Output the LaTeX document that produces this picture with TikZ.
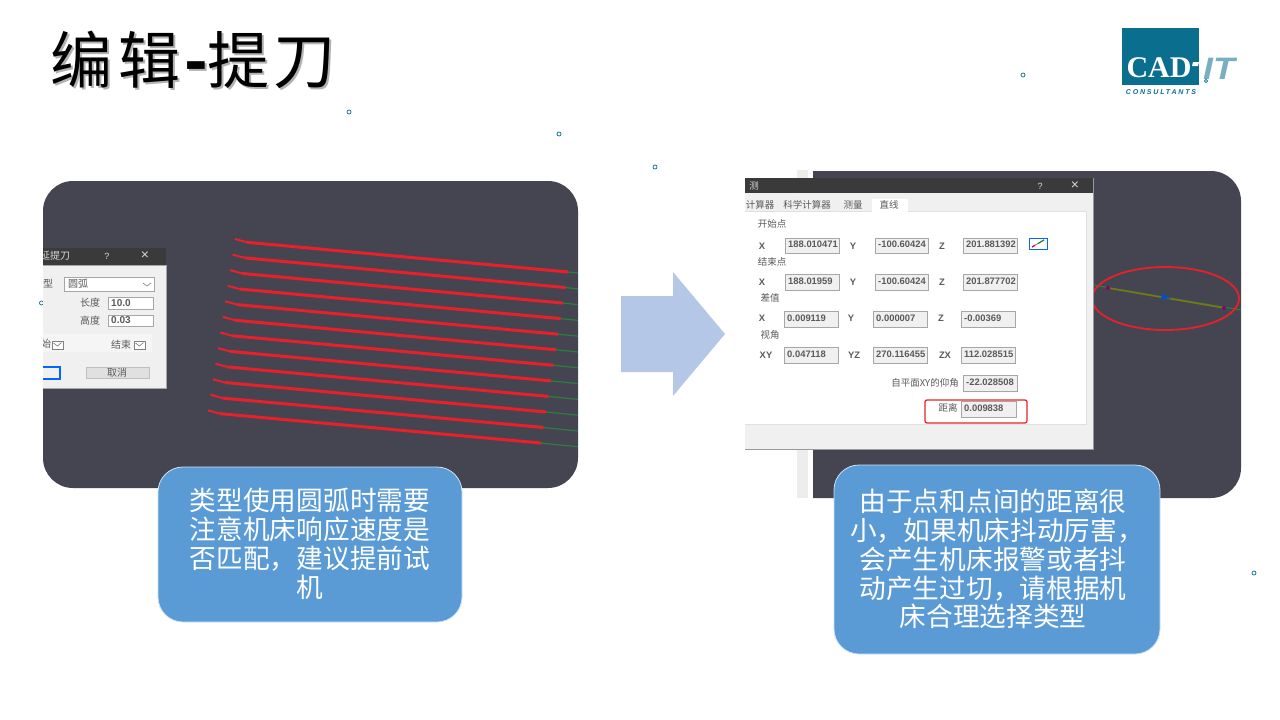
\documentclass[tikz,border=0pt]{standalone}
\usepackage{fontspec}
\setmainfont{Liberation Sans}
\newfontfamily\cjk{Noto Sans CJK SC}
\newfontfamily\logoserif{Liberation Serif}
\newfontfamily\logospaced[LetterSpace=26]{Liberation Sans}
\definecolor{panel}{HTML}{454551}
\definecolor{boxblue}{HTML}{5B9BD5}
\definecolor{arrowblue}{HTML}{B4C7E7}
\definecolor{titlebar}{HTML}{3A3A3A}
\definecolor{dlgbg}{HTML}{F0F0F0}
\definecolor{dlgtxt}{HTML}{5A5A5A}
\definecolor{teal}{HTML}{0A6E8E}
\definecolor{lineRed}{HTML}{E8202A}
\definecolor{lineGreen}{HTML}{2F7D3C}
\newcommand{\titletext}{编\kern6pt辑\kern4pt{\bfseries -}\kern0pt提\kern4pt刀}
\tikzset{
  x=1pt,y=-1pt,
  callout/.style={draw=white!70!boxblue,line width=.8pt,fill=boxblue,rounded corners=25pt},
  callouttext/.style={text=white,align=center,inner sep=0pt,font=\cjk\fontsize{26.67}{28.8}\selectfont},
  titlefont/.style={anchor=west,inner sep=0pt,font=\cjk\fontsize{62}{62}\selectfont},
  dlg/.style={text=dlgtxt,inner sep=0pt,font=\cjk\fontsize{9.5}{10}\selectfont},
  dlgl/.style={text=dlgtxt,inner sep=0pt,font=\cjk\fontsize{10}{10}\selectfont},
  dlgnum/.style={text=dlgtxt,inner sep=0pt,font=\bfseries\fontsize{9.4}{10}\selectfont},
  dlgwhite/.style={text=white!85!black,inner sep=0pt,font=\fontsize{9}{9}\selectfont},
  ring/.style={draw=teal,line width=.7pt,fill=white,circle,inner sep=0pt,minimum size=4pt},
}
\newcommand{\fieldbox}[6]{% name x y w h text
  \begin{scope}
    \draw[fill=dlgbg,draw=black!35,line width=.8pt] (#2,#3) rectangle ++(#4,#5);
    \clip (#2+1,#3+1) rectangle ++(#4-2,#5-2);
    \node[dlgnum,anchor=west] (#1) at (#2+3,#3+#5/2-1) {#6};
  \end{scope}}
\newcommand{\entrybox}[6]{% name x y w h text
  \draw[fill=white,draw=black!35,line width=.8pt] (#2,#3) rectangle ++(#4,#5);
  \node[dlgnum,anchor=west,font=\bfseries\fontsize{10}{10}\selectfont] (#1) at (#2+3,#3+#5/2) {#6};}
\newcommand{\tickbox}[2]{% x y
  \draw[draw=black!50,line width=.6pt,fill=white] (#1,#2) rectangle ++(11,8);
  \draw[black!55,line width=.6pt] (#1+1.5,#2+2) -- (#1+5.5,#2+5) -- (#1+9.5,#2+1.5);}
\begin{document}
\begin{tikzpicture}
\useasboundingbox (0,0) rectangle (1280,720);
\fill[white] (0,0) rectangle (1280,720);

% title
\node[titlefont,text=black!30] (titleshadow) at (52,61.5) {\titletext};
\node[titlefont,text=black] (title) at (50,60) {\titletext};

% decorative rings
\node[ring] (r1) at (349,112) {};
\node[ring] (r2) at (559,134) {};
\node[ring] (r3) at (655,167) {};
\node[ring] (r4) at (1023,75) {};
\node[ring] (r5) at (1254,573) {};
\node[ring] (r7) at (41.5,303) {};

% logo
\fill[teal] (1122,28) rectangle (1199,85);
\node[anchor=center,inner sep=0pt,text=white,font=\logoserif\bfseries\fontsize{30}{30}\selectfont] (cad) at (1159,68) {CAD};
\fill[white] (1193,62) -- (1199,62) -- (1198,66) -- (1192,66) -- cycle;
\node[anchor=center,inner sep=0pt,xscale=1.15,transform shape,text=teal!55!white,font=\bfseries\itshape\fontsize{31}{31}\selectfont] (it) at (1219,69) {IT};
\node[ring,minimum size=3.4pt] (r6) at (1206,81) {};
\node[anchor=center,inner sep=0pt,text=teal,font=\logospaced\bfseries\itshape\fontsize{7}{7}\selectfont] (consult) at (1161,92) {CONSULTANTS};

% left panel
\fill[panel,rounded corners=30pt] (43,181) rectangle (578,488);
\begin{scope}
  \clip[rounded corners=30pt] (43,181) rectangle (578,488);
  \foreach \i in {0,...,11} {
    \pgfmathsetmacro{\sx}{235-2.45*\i}
    \pgfmathsetmacro{\sy}{239+15.58*\i}
    \pgfmathsetmacro{\ex}{568-2.45*\i}
    \pgfmathsetmacro{\ey}{272+15.55*\i}
    \pgfmathsetmacro{\gy}{\ey+(578-\ex)*0.1}
    \draw[lineGreen,line width=1.2pt] (\ex,\ey) -- (578,\gy);
    \draw[lineRed,line width=3pt] (\sx+12,\sy+3.3) -- (\ex,\ey);
    \draw[lineRed,line width=2pt] (\sx,\sy) -- (\sx+12,\sy+3.3);
  }
  % dialog
  \fill[titlebar] (43,248) rectangle (166,265);
  \draw[fill=dlgbg,draw=black!35,line width=.6pt] (30,265) rectangle (166,388);
  \node[dlgl,text=white!85!black,anchor=west] (ltitle) at (40,256) {延提刀};
  \node[dlgwhite] (lq) at (107,256) {?};
  \node[dlgwhite,font=\fontsize{14}{14}\selectfont] (lx) at (145,256) {×};
  \node[dlgl] (ltype) at (48,284) {型};
  \draw[fill=white,draw=black!35,line width=.8pt] (64,277) rectangle (154,291);
  \node[dlgl] (larc) at (78,284) {圆弧};
  \draw[black!50,line width=.6pt] (143,283) -- (147,286) -- (151,283);
  \node[dlgl] (llen) at (90,303) {长度};
  \entrybox{lenv}{108}{297}{45}{12}{10.0}
  \node[dlgl] (lhei) at (90,321) {高度};
  \entrybox{heiv}{108}{315}{45}{11}{0.03}
  \fill[black!4] (30,334) rectangle (152,352);
  \node[dlgl] (lstart) at (46,344) {始};
  \tickbox{52}{341}
  \node[dlgl] (lend) at (121,345) {结束};
  \tickbox{134}{341}
  \draw[draw=blue!60!cyan,fill=dlgbg,line width=1.1pt] (30,367) rectangle (60,379);
  \draw[fill=black!12,draw=black!25,line width=.8pt] (86,367) rectangle (149,378);
  \node[dlgl] (lcancel) at (117,373) {取消};
\end{scope}

% right panel
\fill[panel,rounded corners=30pt] (770,171) rectangle (1241,498);
\fill[white] (765,165) rectangle (813,500);
\fill[black!7] (797,170) rectangle (808,498);
\draw[lineGreen,line width=1.1pt] (1093,285) -- (1241,310);
\draw[olive!85!black,line width=1.5pt] (1108,288) -- (1224,308);
\fill[blue!60!cyan!80!black] (1160,299) -- (1163,294) -- (1171,298.5) -- cycle;
\fill[purple!70!blue] (1108,288) circle (2pt);
\fill[purple!70!blue] (1224,308) circle (2pt);
\draw[lineRed,line width=1.8pt] (1165.5,298.5) ellipse [x radius=73.5,y radius=31.5];

% right dialog
\fill[black!40] (745,178) rectangle (1093.5,450);
\fill[titlebar] (745,178) rectangle (1093,193);
\fill[dlgbg] (745,193) rectangle (1092.5,449);
\fill[white] (745,211) rectangle (1086,424);
\draw[black!12,line width=.6pt] (745,211) -- (872,211) (908,211) -- (1086,211) -- (1086,424) -- (745,424);
\fill[white] (872,199) rectangle (908,212);
\node[dlg,text=white!85!black] (rtitle) at (754,186) {测};
\node[dlgwhite] (rq) at (1040,186) {?};
\node[dlgwhite,font=\fontsize{14}{14}\selectfont] (rx) at (1075,186) {×};
\begin{scope}
  \clip (745,195) rectangle (1000,215);
  \node[dlg] (tab1) at (760,205) {计算器};
\end{scope}
\node[dlg] (tab2) at (807,205) {科学计算器};
\node[dlg] (tab3) at (853,205) {测量};
\node[dlg] (tab4) at (889,205) {直线};

\node[dlg] (h1) at (772,224) {开始点};
\node[dlgnum] (x1) at (762,246) {X};
\fieldbox{a1}{785}{238}{54}{15}{188.010471}
\node[dlgnum] (y1) at (853,246) {Y};
\fieldbox{b1}{875}{238}{53}{15}{-100.60424}
\node[dlgnum] (z1) at (942,246) {Z};
\fieldbox{c1}{963}{238}{54}{15}{201.881392}
\draw[fill=white,draw=blue!60!cyan,line width=1pt] (1029,238) rectangle (1047,249);
\draw[black!50,line width=.8pt] (1032,247) -- (1044,240);
\draw[lineGreen,line width=1.2pt] (1038,243.5) -- (1044,240);
\draw[red,line width=1.2pt] (1032,247) -- (1035,245.2);

\node[dlg] (h2) at (772,262) {结束点};
\node[dlgnum] (x2) at (762,282) {X};
\fieldbox{a2}{785}{274}{54}{16}{188.01959}
\node[dlgnum] (y2) at (853,282) {Y};
\fieldbox{b2}{875}{274}{53}{16}{-100.60424}
\node[dlgnum] (z2) at (942,282) {Z};
\fieldbox{c2}{963}{274}{54}{16}{201.877702}

\node[dlg] (h3) at (770,298) {差值};
\node[dlgnum] (x3) at (762,318) {X};
\fieldbox{a3}{784}{311}{54}{16}{0.009119}
\node[dlgnum] (y3) at (851,318) {Y};
\fieldbox{b3}{873}{311}{54}{16}{0.000007}
\node[dlgnum] (z3) at (941,318) {Z};
\fieldbox{c3}{961}{311}{54}{16}{-0.00369}

\node[dlg] (h4) at (770,335) {视角};
\node[dlgnum] (x4) at (766,355) {XY};
\fieldbox{a4}{784}{347}{54}{16}{0.047118}
\node[dlgnum] (y4) at (854,355) {YZ};
\fieldbox{b4}{873}{347}{54}{16}{270.116455}
\node[dlgnum] (z4) at (945,355) {ZX};
\fieldbox{c4}{961}{347}{54}{16}{112.028515}

\node[dlg] (plane) at (925,383) {自平面XY的仰角};
\fieldbox{pv}{963}{375}{54}{16}{-22.028508}
\node[dlg] (dist) at (948,408) {距离};
\fieldbox{dv}{961}{401}{55}{16}{0.009838}
\draw[lineRed,line width=1.2pt,rounded corners=2pt] (925,400) rectangle (1027,423);

% arrow
\fill[arrowblue] (621,296) -- (673,296) -- (673,272) -- (725,334) -- (673,396) -- (673,372) -- (621,372) -- cycle;

% call-outs
\draw[callout] (158,467) rectangle (462,622);
\node[callouttext] (ltext) at (310,544) {类型使用圆弧时需要\\注意机床响应速度是\\否匹配，建议提前试\\机};
\draw[callout] (834,465) rectangle (1160,654);
\node[callouttext] (rtext) at (993,559) {由于点和点间的距离很\\\hspace*{8pt}小，如果机床抖动厉害，\\会产生机床报警或者抖\\动产生过切，请根据机\\床合理选择类型};
\end{tikzpicture}
\end{document}
